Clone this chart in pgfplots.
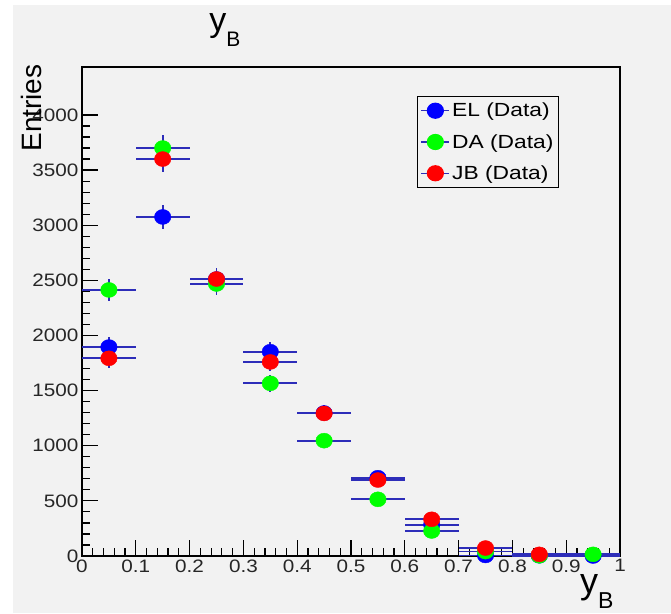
\documentclass[border=0pt]{standalone}
\usepackage{pgfplots}
\pgfplotsset{compat=1.18}
\usepackage{pgfplotstable}
\usepackage{fontspec}
\setmainfont{Liberation Sans}
\definecolor{bg}{RGB}{242,242,242}
\definecolor{ebar}{RGB}{45,45,185}
\definecolor{mblue}{RGB}{0,0,255}
\definecolor{mgreen}{RGB}{0,255,0}
\definecolor{mred}{RGB}{255,0,0}

\pgfplotstableread{
x y ex ey
0.05 1895 0.05 87
0.15 3075 0.05 111
0.25 2512 0.05 100
0.35 1853 0.05 86
0.45 1297 0.05 72
0.55 710 0.05 53
0.65 284 0.05 34
0.75 5 0.05 5
0.85 2 0.05 3
0.95 0 0.05 0
}\ELdata

\pgfplotstableread{
x y ex ey
0.05 2413 0.05 98
0.15 3700 0.05 122
0.25 2467 0.05 99
0.35 1566 0.05 79
0.45 1046 0.05 65
0.55 514 0.05 45
0.65 227 0.05 30
0.75 40 0.05 13
0.85 2 0.05 3
0.95 15 0.05 8
}\DAdata

\pgfplotstableread{
x y ex ey
0.05 1793 0.05 85
0.15 3600 0.05 120
0.25 2512 0.05 100
0.35 1760 0.05 84
0.45 1293 0.05 72
0.55 689 0.05 52
0.65 333 0.05 36
0.75 72 0.05 17
0.85 15 0.05 8
}\JBdata

\pgfplotsset{myerr/.style={error bars/.cd, x dir=both, x explicit, y dir=both, y explicit, error mark=none,
  error bar style={ebar, line width=1.7pt}}}

\newcommand{\legtext}[1]{\scalebox{1.2}[1]{#1}\hspace{16pt}}

\begin{document}
\begin{tikzpicture}[x=1pt,y=1pt]
\useasboundingbox (0,0) rectangle (671,613);
\fill[white] (0,0) rectangle (671,613);
\fill[bg] (13,0) rectangle (671,608);
\begin{axis}[
  at={(82pt,57pt)}, anchor=south west,
  scale only axis, width=538pt, height=489pt,
  xmin=0, xmax=1, ymin=0, ymax=4435,
  axis background/.style={fill=bg},
  axis line style={line width=1.3pt, black},
  tick align=inside, tick pos=left,
  major tick length=16pt, minor tick length=8.5pt,
  every tick/.style={black, line width=1.2pt},
  xtick={0,0.1,0.2,0.3,0.4,0.5,0.6,0.7,0.8,0.9,1},
  ytick={0,500,1000,1500,2000,2500,3000,3500,4000},
  minor x tick num=4, minor y tick num=4,
  scaled y ticks=false,
  /pgf/number format/assume math mode=true,
  /pgf/number format/1000 sep={},
  xticklabel={\scalebox{1.15}[1]{\pgfmathprintnumber{\tick}}},
  yticklabel={\scalebox{1.15}[1]{\pgfmathprintnumber{\tick}}},
  tick label style={font=\fontsize{18}{18}\selectfont, text=black!85},
  title={y\raisebox{-15pt}{\fontsize{21}{21}\selectfont B}},
  every axis title/.style={at={(axis description cs:0.2658,1.0736)}, anchor=base, font=\fontsize{34}{34}\selectfont},
  xlabel={y\raisebox{-15pt}{\fontsize{23}{23}\selectfont B}},
  every axis x label/.style={at={(axis description cs:0.957,-0.0777)}, anchor=base, font=\fontsize{36}{36}\selectfont},
  ylabel={Entries},
  every axis y label/.style={at={(axis description cs:-0.0762,0.916)}, anchor=base, rotate=90, font=\fontsize{28}{28}\selectfont},
  legend style={at={(0.6227,0.9407)}, anchor=north west, draw=black, line width=1.2pt, fill=bg,
    font=\fontsize{19}{21}\selectfont, row sep=12pt, inner xsep=3pt, inner ysep=4.5pt},
  legend cell align=left,
]
\addplot[only marks, mark=*, mark size=7.5pt, color=mblue, mark options={xscale=1.1},
  legend image code/.code={\draw[ebar, line width=1.5pt] (0pt,0pt) -- (28pt,0pt); \fill[mblue] (14pt,0pt) ellipse (8pt and 7.5pt);}, myerr]
  table[x=x, y=y, x error=ex, y error=ey] {\ELdata};
\addlegendentry{\legtext{EL (Data)}}
\addplot[only marks, mark=*, mark size=7.5pt, color=mgreen, mark options={xscale=1.1},
  legend image code/.code={\draw[ebar, line width=1.5pt] (0pt,0pt) -- (28pt,0pt); \fill[mgreen] (14pt,0pt) ellipse (8pt and 7.5pt);}, myerr]
  table[x=x, y=y, x error=ex, y error=ey] {\DAdata};
\addlegendentry{\legtext{DA (Data)}}
\addplot[only marks, mark=*, mark size=7.5pt, color=mred, mark options={xscale=1.1},
  legend image code/.code={\draw[ebar, line width=1.5pt] (0pt,0pt) -- (28pt,0pt); \fill[mred] (14pt,0pt) ellipse (8pt and 7.5pt);}, myerr]
  table[x=x, y=y, x error=ex, y error=ey] {\JBdata};
\addlegendentry{\legtext{JB (Data)}}
\end{axis}
\end{tikzpicture}
\end{document}
